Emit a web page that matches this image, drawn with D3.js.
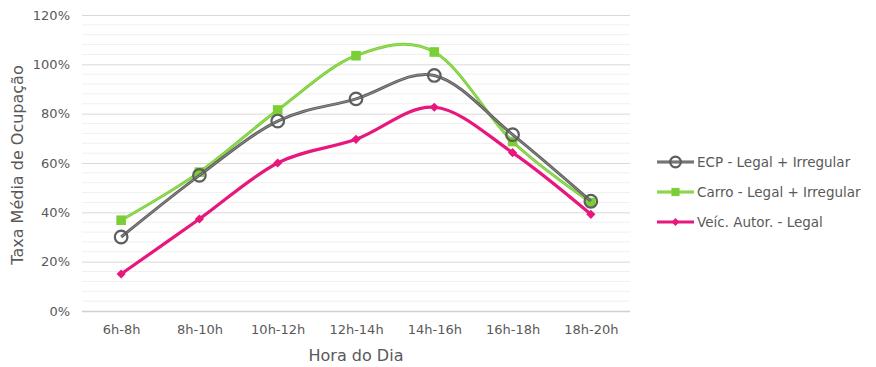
<!DOCTYPE html>
<html>
<head>
<meta charset="utf-8">
<script src="https://cdn.jsdelivr.net/npm/d3@7"></script>
<style>
  body { margin: 0; background: #fff; }
  text { font-family: "DejaVu Sans", Verdana, sans-serif; fill: #595959; }
</style>
</head>
<body>
<svg id="chart" width="876" height="367"></svg>
<script>
// Hourly slots and average occupancy (%) per vehicle group
const categories = ["6h-8h", "8h-10h", "10h-12h", "12h-14h", "14h-16h", "16h-18h", "18h-20h"];
const ecp   = [30, 55, 77, 86, 95.5, 71.5, 44.5];
const carro = [36.8, 56.3, 81.5, 103.5, 105, 68.7, 44];
const veic  = [15, 37.3, 60, 69.6, 82.6, 64.2, 39.2];
const yTicks = [0, 20, 40, 60, 80, 100, 120];
const seriesNames = ["ECP - Legal + Irregular", "Carro - Legal + Irregular", "Veíc. Autor. - Legal"];

const svg = d3.select("#chart");
const m = { left: 82, right: 630, top: 15, bottom: 311 };

const x = d3.scalePoint().domain(categories).range([m.left, m.right]).padding(0.5);
const y = d3.scaleLinear().domain([0, 120]).range([m.bottom, m.top]);

// minor gridlines every 4%
svg.append("g").selectAll("line").data(d3.range(0, 121, 4).filter(v => v % 20 !== 0))
  .join("line")
  .attr("x1", m.left).attr("x2", m.right)
  .attr("y1", d => y(d)).attr("y2", d => y(d))
  .attr("stroke", "#f0f0f0").attr("stroke-width", 1);

// major gridlines + y axis labels
const yAxis = d3.axisLeft(y).tickValues(yTicks).tickFormat(d => d + "%").tickSize(-(m.right - m.left)).tickPadding(12);
const gy = svg.append("g").attr("transform", `translate(${m.left},0)`).call(yAxis);
gy.select(".domain").remove();
gy.selectAll(".tick line").attr("stroke", d => d === 0 ? "#d0d0d0" : "#d9d9d9").attr("stroke-width", d => d === 0 ? 1.5 : 1);
gy.selectAll(".tick text").style("font-size", "13px").attr("fill", "#595959");

// x axis labels
const xAxis = d3.axisBottom(x).tickSize(0).tickPadding(14);
const gx = svg.append("g").attr("transform", `translate(0,${m.bottom})`).call(xAxis);
gx.select(".domain").remove();
gx.selectAll(".tick text").style("font-size", "13px").attr("fill", "#595959");

// axis titles
svg.append("text").attr("x", (m.left + m.right) / 2).attr("y", 361)
  .attr("text-anchor", "middle").style("font-size", "16px").text("Hora do Dia");
svg.append("text").attr("transform", `translate(23,${(m.top + m.bottom) / 2 + 2}) rotate(-90)`)
  .attr("text-anchor", "middle").style("font-size", "16px").text("Taxa Média de Ocupação");

const line = d3.line().x((d, i) => x(categories[i])).y(d => y(d)).curve(d3.curveCatmullRom.alpha(0));

const series = [
  { name: seriesNames[0], values: ecp,   color: "#5e5e5e", inner: "#9a9a9a", marker: "circle" },
  { name: seriesNames[1], values: carro, color: "#7acf35", inner: "#a8e07a", marker: "square" },
  { name: seriesNames[2], values: veic,  color: "#e8177d", inner: null,      marker: "diamond" }
];

function drawMarker(g, type, cx, cy, s, scale) {
  if (type === "circle") {
    g.append("circle").attr("cx", cx).attr("cy", cy).attr("r", 6 * scale)
      .attr("fill", "none").attr("stroke", "#9a9a9a").attr("stroke-width", 1);
    g.append("circle").attr("cx", cx).attr("cy", cy).attr("r", 6.3 * scale)
      .attr("fill", "none").attr("stroke", s.color).attr("stroke-width", 2.2);
  } else if (type === "square") {
    const h = 4.8 * scale;
    g.append("rect").attr("x", cx - h).attr("y", cy - h).attr("width", 2 * h).attr("height", 2 * h)
      .attr("fill", s.color);
  } else {
    const h = 4.6 * scale;
    g.append("path").attr("d", `M${cx},${cy - h}L${cx + h},${cy}L${cx},${cy + h}L${cx - h},${cy}Z`)
      .attr("fill", s.color);
  }
}

// draw lines (reverse order so ECP sits on top)
[...series].reverse().forEach(s => {
  const g = svg.append("g");
  g.append("path").attr("d", line(s.values)).attr("fill", "none")
    .attr("stroke", s.color).attr("stroke-width", s.inner ? 3 : 3.2).attr("stroke-linejoin", "round");
  if (s.inner) {
    g.append("path").attr("d", line(s.values)).attr("fill", "none")
      .attr("stroke", s.inner).attr("stroke-width", 0.8);
  }
  s.values.forEach((v, i) => drawMarker(g, s.marker, x(categories[i]), y(v), s, 1));
});

// legend
const legend = svg.append("g");
series.forEach((s, i) => {
  const ly = 162 + i * 30;
  const g = legend.append("g");
  g.append("line").attr("x1", 657).attr("x2", 694).attr("y1", ly).attr("y2", ly)
    .attr("stroke", s.color).attr("stroke-width", 3);
  if (s.inner) g.append("line").attr("x1", 657).attr("x2", 694).attr("y1", ly).attr("y2", ly)
    .attr("stroke", s.inner).attr("stroke-width", 0.8);
  drawMarker(g, s.marker, 675.5, ly, s, 0.85);
  g.append("text").attr("x", 697).attr("y", ly + 5).style("font-size", "13.5px").text(s.name);
});
</script>
</body>
</html>
